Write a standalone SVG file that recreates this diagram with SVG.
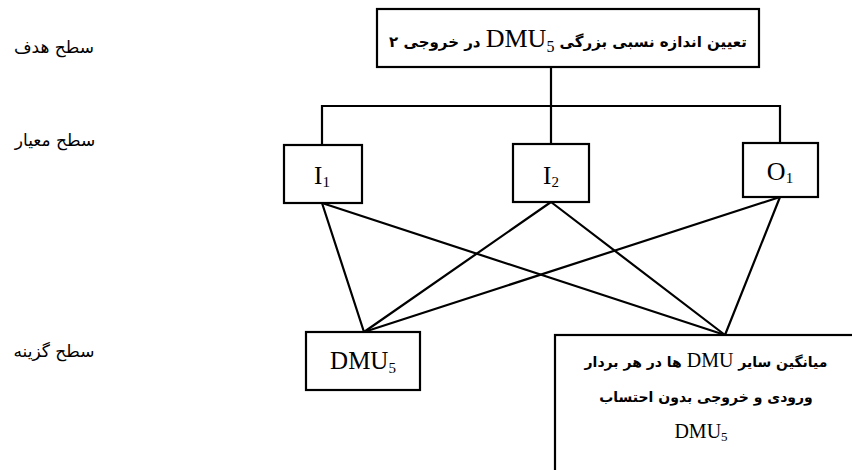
<svg xmlns="http://www.w3.org/2000/svg" width="852" height="470" viewBox="0 0 852 470">
<style>
.box{fill:#fff;stroke:#000;stroke-width:2.2}
.ln{fill:none;stroke:#000;stroke-width:2.2;stroke-linecap:round}
.fa{font-family:"DejaVu Sans",sans-serif;fill:#000}
.lat{font-family:"Liberation Serif",serif;fill:#000}
.lvl{font-size:17px}
.b{font-weight:bold}
</style>
<rect width="852" height="470" fill="#fff"/>
<g id="levels">
<text class="fa lvl" x="54" y="53" text-anchor="middle" direction="rtl">سطح هدف</text>
<text class="fa lvl" x="55" y="146" text-anchor="middle" direction="rtl">سطح معیار</text>
<text class="fa lvl" x="54" y="357" text-anchor="middle" direction="rtl">سطح گزینه</text>
</g>
<g id="connectors">
<polyline class="ln" points="551,67 551,106"/>
<polyline class="ln" points="322,145 322,106 780,106 780,143"/>
<line class="ln" x1="551" y1="106" x2="551" y2="144"/>
<line class="ln" x1="322" y1="203" x2="364" y2="332"/>
<line class="ln" x1="322" y1="203" x2="725" y2="335"/>
<line class="ln" x1="551" y1="202" x2="364" y2="332"/>
<line class="ln" x1="551" y1="202" x2="725" y2="335"/>
<line class="ln" x1="780" y1="197" x2="364" y2="332"/>
<line class="ln" x1="780" y1="197" x2="725" y2="335"/>
</g>
<g id="goal">
<rect class="box" x="377" y="9" width="382" height="58"/>
<text class="fa b" x="568" y="47" font-size="15" text-anchor="middle" direction="rtl">تعیین اندازه نسبی بزرگی <tspan class="lat" font-weight="normal" font-size="26">DMU<tspan font-size="16" baseline-shift="-5">5</tspan></tspan> در خروجی ۲</text>
</g>
<g id="I1">
<rect class="box" x="284" y="145" width="78" height="58"/>
<text class="lat" x="322" y="184" font-size="25" text-anchor="middle">I<tspan font-size="15" baseline-shift="-3">1</tspan></text>
</g>
<g id="I2">
<rect class="box" x="513" y="144" width="76" height="58"/>
<text class="lat" x="551" y="184" font-size="25" text-anchor="middle">I<tspan font-size="15" baseline-shift="-3">2</tspan></text>
</g>
<g id="O1">
<rect class="box" x="743" y="143" width="75" height="54"/>
<text class="lat" x="780" y="180" font-size="26" text-anchor="middle">O<tspan font-size="15" baseline-shift="-3">1</tspan></text>
</g>
<g id="DMU5">
<rect class="box" x="306" y="332" width="114" height="58"/>
<text class="lat" x="363" y="369" font-size="25" text-anchor="middle">DMU<tspan font-size="15" baseline-shift="-4">5</tspan></text>
</g>
<g id="others">
<rect class="box" x="555" y="335" width="320" height="160"/>
<text class="fa b" x="706" y="367" font-size="14" text-anchor="middle" direction="rtl">میانگین سایر <tspan class="lat" font-weight="normal" font-size="20">DMU</tspan> ها در هر بردار</text>
<text class="fa b" x="706" y="402" font-size="14" text-anchor="middle" direction="rtl">ورودی و خروجی بدون احتساب</text>
<text class="lat" x="701" y="438" font-size="20" text-anchor="middle">DMU<tspan font-size="13" baseline-shift="-3">5</tspan></text>
</g>
</svg>
